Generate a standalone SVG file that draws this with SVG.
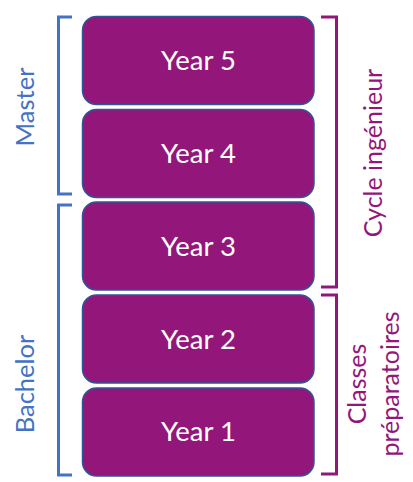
<svg xmlns="http://www.w3.org/2000/svg" width="413" height="482" viewBox="0 0 413 482">
<style>
.box{fill:#93177A;stroke:#2F5597;stroke-width:1.5}
.yl{font-family:Lato,"Open Sans",sans-serif;font-size:27.5px;fill:#ffffff;text-anchor:middle}
.bb{fill:none;stroke:#4472C4;stroke-width:3}
.bp{fill:none;stroke:#93177A;stroke-width:3}
.lb{font-family:Lato,"Open Sans",sans-serif;font-size:25.5px;fill:#4472C4;text-anchor:middle}
.lp{font-family:Lato,"Open Sans",sans-serif;font-size:25px;fill:#93177A;text-anchor:middle}
</style>
<rect width="413" height="482" fill="#ffffff"/>
<g id="year5"><rect class="box" x="82.5" y="16.5" width="231.5" height="88" rx="14"/><text class="yl" x="198.5" y="69.5">Year 5</text></g>
<g id="year4"><rect class="box" x="82.5" y="109.5" width="231.5" height="88" rx="14"/><text class="yl" x="198.5" y="162.5">Year 4</text></g>
<g id="year3"><rect class="box" x="82.5" y="202" width="231.5" height="88" rx="14"/><text class="yl" x="198.5" y="255.5">Year 3</text></g>
<g id="year2"><rect class="box" x="82.5" y="295" width="231.5" height="88" rx="14"/><text class="yl" x="198.5" y="348.5">Year 2</text></g>
<g id="year1"><rect class="box" x="82.5" y="388" width="231.5" height="88" rx="14"/><text class="yl" x="198.5" y="441">Year 1</text></g>
<g id="master"><path class="bb" d="M72,17 H58.5 V194 H72"/><text class="lb" transform="translate(33.5,107) rotate(-90)">Master</text></g>
<g id="bachelor"><path class="bb" d="M72,205 H58.5 V475 H72"/><text class="lb" transform="translate(33.5,384) rotate(-90)">Bachelor</text></g>
<g id="cycle"><path class="bp" d="M321,17 H336.5 V287 H321"/><text class="lp" transform="translate(381.5,153) rotate(-90)">Cycle ingénieur</text></g>
<g id="classes"><path class="bp" d="M321,295 H336.5 V474 H321"/><text class="lp" transform="translate(365.5,384) rotate(-90)">Classes</text><text class="lp" transform="translate(398.5,384) rotate(-90)">préparatoires</text></g>
</svg>
